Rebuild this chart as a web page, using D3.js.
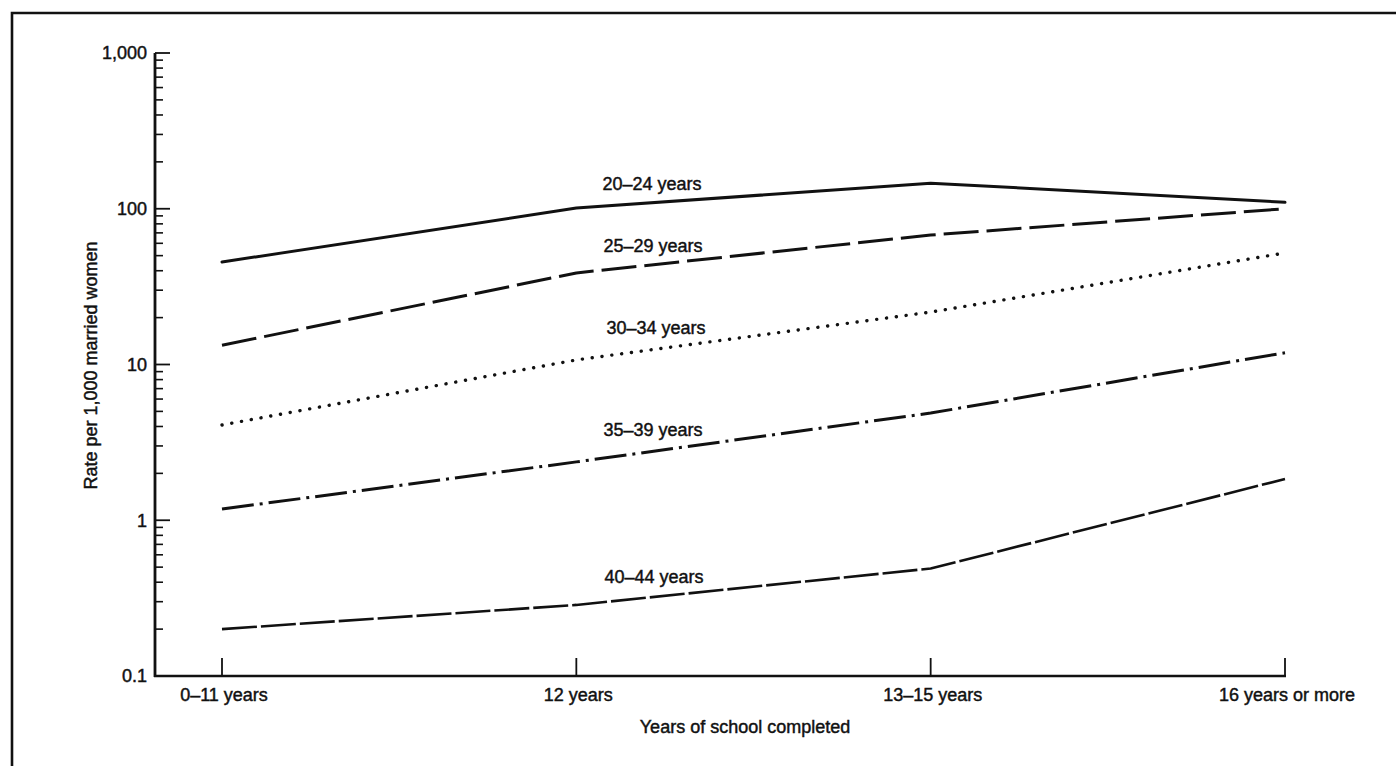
<!DOCTYPE html>
<html>
<head>
<meta charset="utf-8">
<script src="https://cdn.jsdelivr.net/npm/d3@7"></script>
<style>
  html, body { margin: 0; padding: 0; background: #fff; }
  svg { display: block; }
  text { font-family: "Liberation Sans", Arial, Helvetica, sans-serif; fill: #111; stroke: #111; stroke-width: 0.45px; }
</style>
</head>
<body>
<svg id="chart" width="1396" height="766"></svg>
<script>
// ---- Data ----
const categories = ["0\u201311 years", "12 years", "13\u201315 years", "16 years or more"];
const seriesNames = ["20\u201324 years", "25\u201329 years", "30\u201334 years", "35\u201339 years", "40\u201344 years"];
const age20_24 = [45.5, 101, 146, 110];
const age25_29 = [13.3, 38.7, 67.8, 100];
const age30_34 = [4.09, 10.7, 21.7, 52];
const age35_39 = [1.18, 2.37, 4.88, 11.9];
const age40_44 = [0.2, 0.286, 0.49, 1.84];
const yTickValues = [0.1, 1, 10, 100, 1000];
const yTickLabels = ["0.1", "1", "10", "100", "1,000"];
const yTitle = "Rate per 1,000 married women";
const xTitle = "Years of school completed";

const seriesValues = [age20_24, age25_29, age30_34, age35_39, age40_44];

// ---- Layout ----
const svg = d3.select("#chart");
const axisX = 155, axisBottom = 676, axisTop = 53, axisRight = 1286;

const x = d3.scalePoint().domain(categories).range([222, 1285]);
const y = d3.scaleLog().domain([0.1, 1000]).range([axisBottom, axisTop]);

// Frame (top and left edges of the scanned box)
svg.append("path")
  .attr("d", `M12,766 L12,13 L1396,13`)
  .attr("fill", "none").attr("stroke", "#111").attr("stroke-width", 2.6);

// ---- Y axis ----
const minorTicks = [];
for (let d = 0.1; d < 1000; d *= 10) {
  for (let k = 2; k <= 9; k++) minorTicks.push(+(d * k).toPrecision(3));
}
const yAxisG = svg.append("g").attr("transform", `translate(${axisX},0)`);
yAxisG.append("line")
  .attr("x1", 0).attr("x2", 0).attr("y1", axisTop).attr("y2", axisBottom + 1)
  .attr("stroke", "#111").attr("stroke-width", 2.8);
yAxisG.selectAll("line.minor").data(minorTicks).join("line")
  .attr("class", "minor")
  .attr("x1", 0).attr("x2", 8)
  .attr("y1", d => y(d)).attr("y2", d => y(d))
  .attr("stroke", "#111").attr("stroke-width", 1.6);
yAxisG.selectAll("line.major").data(yTickValues.filter(v => v > 0.1)).join("line")
  .attr("class", "major")
  .attr("x1", 0).attr("x2", 15)
  .attr("y1", d => y(d)).attr("y2", d => y(d))
  .attr("stroke", "#111").attr("stroke-width", 1.8);
yAxisG.selectAll("text.tl").data(yTickValues).join("text")
  .attr("class", "tl")
  .attr("x", -8).attr("y", d => y(d))
  .attr("dy", "0.35em")
  .attr("text-anchor", "end")
  .style("font-size", "18px")
  .text((d, i) => yTickLabels[i]);

svg.append("text")
  .attr("transform", `translate(97,${(axisTop + axisBottom) / 2 + 1}) rotate(-90)`)
  .attr("text-anchor", "middle")
  .style("font-size", "18px")
  .text(yTitle);

// ---- X axis ----
svg.append("line")
  .attr("x1", axisX - 1).attr("x2", axisRight).attr("y1", axisBottom).attr("y2", axisBottom)
  .attr("stroke", "#111").attr("stroke-width", 2.6);
svg.selectAll("line.xt").data(categories).join("line")
  .attr("class", "xt")
  .attr("x1", d => x(d)).attr("x2", d => x(d))
  .attr("y1", axisBottom).attr("y2", axisBottom - 18)
  .attr("stroke", "#111").attr("stroke-width", 1.8);
svg.selectAll("text.xl").data(categories).join("text")
  .attr("class", "xl")
  .attr("x", d => x(d) + 2).attr("y", axisBottom + 19)
  .attr("dy", "0.35em")
  .attr("text-anchor", "middle")
  .style("font-size", "18px")
  .text(d => d);
svg.append("text")
  .attr("x", 745).attr("y", 727).attr("dy", "0.35em")
  .attr("text-anchor", "middle")
  .style("font-size", "18px")
  .text(xTitle);

// ---- Lines ----
const styles = [
  { dash: null, width: 3, cap: "round" },
  { dash: "35,8", width: 3, cap: "butt" },
  { dash: "0.1,9.8", width: 3.4, cap: "round" },
  { dash: "32,6,3,6", width: 3, cap: "butt" },
  { dash: "35,4", width: 2.6, cap: "butt" }
];
const line = d3.line().x((d, i) => x(categories[i])).y(d => y(d));
svg.selectAll("path.series").data(seriesValues).join("path")
  .attr("class", "series")
  .attr("d", d => line(d))
  .attr("fill", "none")
  .attr("stroke", "#111")
  .attr("stroke-width", (d, i) => styles[i].width)
  .attr("stroke-linecap", (d, i) => styles[i].cap)
  .attr("stroke-linejoin", "round")
  .attr("stroke-dasharray", (d, i) => styles[i].dash);

// ---- Line labels ----
const labelPos = [
  { cx: 652, cy: 184 },
  { cx: 653, cy: 246 },
  { cx: 656, cy: 328 },
  { cx: 653, cy: 430 },
  { cx: 654, cy: 577 }
];
svg.selectAll("text.sl").data(seriesNames).join("text")
  .attr("class", "sl")
  .attr("x", (d, i) => labelPos[i].cx)
  .attr("y", (d, i) => labelPos[i].cy)
  .attr("dy", "0.35em")
  .attr("text-anchor", "middle")
  .style("font-size", "18px")
  .text(d => d);
</script>
</body>
</html>
